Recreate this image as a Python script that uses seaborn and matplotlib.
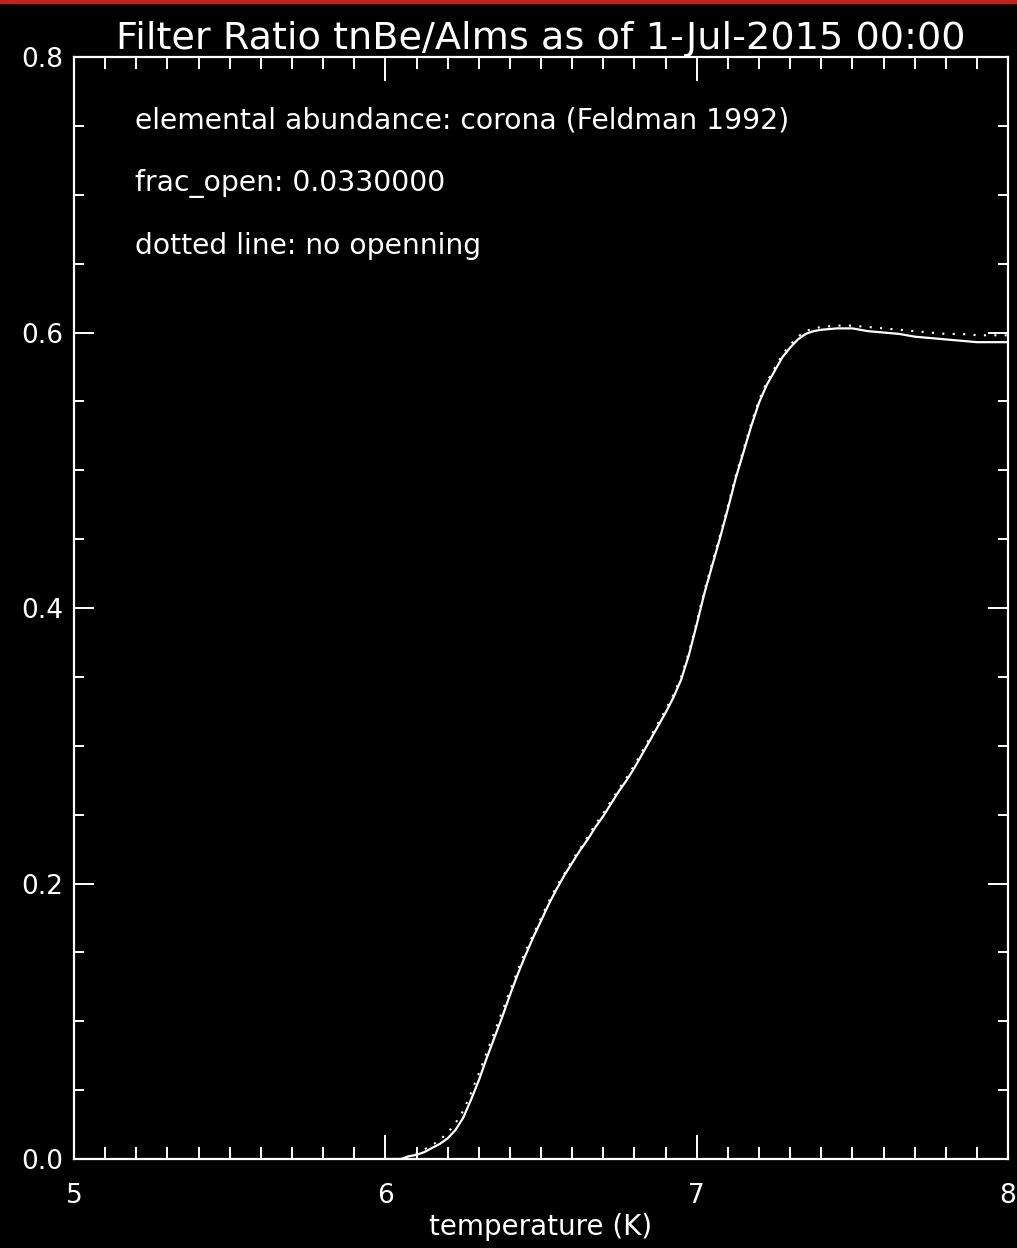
import matplotlib
matplotlib.use('Agg')
import matplotlib.pyplot as plt
import seaborn as sns
import pandas as pd
from matplotlib.patches import Rectangle
from matplotlib.ticker import MultipleLocator, FormatStrFormatter

# temperature grid (log T) and filter ratio values
log_temp = [6.000, 6.025, 6.050, 6.075, 6.100, 6.125, 6.150, 6.175, 6.200, 6.225,
            6.250, 6.275, 6.300, 6.325, 6.350, 6.375, 6.400, 6.425, 6.450, 6.475,
            6.500, 6.525, 6.550, 6.575, 6.600, 6.625, 6.650, 6.675, 6.700, 6.725,
            6.750, 6.775, 6.800, 6.825, 6.850, 6.875, 6.900, 6.925, 6.950, 6.975,
            7.000, 7.025, 7.050, 7.075, 7.100, 7.125, 7.150, 7.175, 7.200, 7.225,
            7.250, 7.275, 7.300, 7.325, 7.350, 7.375, 7.400, 7.450, 7.500, 7.550,
            7.600, 7.650, 7.700, 7.750, 7.800, 7.850, 7.900, 7.950, 8.000]

ratio_open = [0.000, 0.000, 0.000, 0.002, 0.003, 0.005, 0.008, 0.011, 0.015, 0.021,
              0.030, 0.043, 0.057, 0.073, 0.088, 0.103, 0.119, 0.134, 0.148, 0.161,
              0.173, 0.185, 0.196, 0.206, 0.215, 0.224, 0.232, 0.241, 0.249, 0.258,
              0.267, 0.275, 0.284, 0.294, 0.304, 0.314, 0.324, 0.335, 0.348, 0.366,
              0.388, 0.411, 0.431, 0.451, 0.472, 0.494, 0.513, 0.532, 0.549, 0.562,
              0.572, 0.582, 0.589, 0.595, 0.599, 0.601, 0.602, 0.603, 0.603, 0.601,
              0.600, 0.599, 0.597, 0.596, 0.595, 0.594, 0.593, 0.593, 0.593]

ratio_closed = [0.000, 0.000, 0.000, 0.002, 0.004, 0.007, 0.010, 0.014, 0.019, 0.026,
                0.035, 0.048, 0.062, 0.077, 0.092, 0.107, 0.122, 0.137, 0.151, 0.163,
                0.175, 0.187, 0.198, 0.207, 0.217, 0.225, 0.234, 0.243, 0.251, 0.260,
                0.269, 0.277, 0.286, 0.296, 0.306, 0.316, 0.326, 0.337, 0.350, 0.368,
                0.390, 0.413, 0.433, 0.453, 0.474, 0.496, 0.515, 0.534, 0.551, 0.564,
                0.574, 0.584, 0.591, 0.597, 0.601, 0.603, 0.604, 0.605, 0.605, 0.604,
                0.603, 0.602, 0.601, 0.600, 0.599, 0.599, 0.598, 0.598, 0.598]

notes = ['elemental abundance: corona (Feldman 1992)',
         'frac_open: 0.0330000',
         'dotted line: no openning']
note_y = [0.754, 0.7085, 0.663]

df = pd.DataFrame({'temp': log_temp, 'open': ratio_open, 'closed': ratio_closed})

sns.set_style('dark', {'axes.facecolor': 'black', 'figure.facecolor': 'black',
                       'axes.edgecolor': 'white', 'text.color': 'white',
                       'xtick.color': 'white', 'ytick.color': 'white',
                       'axes.labelcolor': 'white'})
plt.rcParams['font.family'] = ['DejaVu Sans']

fig = plt.figure(figsize=(10.17, 12.48), dpi=100)
fig.patch.set_facecolor('black')
ax = fig.add_axes([0.0728, 0.0713, 0.9184, 0.8830])
ax.set_facecolor('black')

# red strip along the top edge
fig.patches.append(Rectangle((0, 0.9976), 1, 0.0024, transform=fig.transFigure,
                             color='#c8201e', zorder=5))

sns.lineplot(data=df, x='temp', y='closed', ax=ax, color='white',
             linewidth=1.5, linestyle=(0, (1, 4)))
sns.lineplot(data=df, x='temp', y='open', ax=ax, color='white', linewidth=1.6)

ax.set_xlim(5, 8)
ax.set_ylim(0, 0.8)
ax.xaxis.set_major_locator(MultipleLocator(1))
ax.xaxis.set_minor_locator(MultipleLocator(0.1))
ax.yaxis.set_major_locator(MultipleLocator(0.2))
ax.yaxis.set_minor_locator(MultipleLocator(0.05))
ax.xaxis.set_major_formatter(FormatStrFormatter('%d'))
ax.yaxis.set_major_formatter(FormatStrFormatter('%.1f'))

ax.tick_params(axis='x', which='major', direction='in', length=17, width=1.4,
               top=True, bottom=True, labelsize=19, pad=17)
ax.tick_params(axis='x', which='minor', direction='in', length=8.5, width=1.4,
               top=True, bottom=True)
ax.tick_params(axis='y', which='major', direction='in', length=14.5, width=1.4,
               left=True, right=True, labelsize=19, pad=8)
ax.tick_params(axis='y', which='minor', direction='in', length=7.5, width=1.4,
               left=True, right=True)
for s in ax.spines.values():
    s.set_color('white')
    s.set_linewidth(1.6)
ax.grid(False)

ax.set_xlabel('temperature (K)', fontsize=20, labelpad=3)
ax.set_ylabel('')
ax.set_title('Filter Ratio tnBe/Alms as of 1-Jul-2015 00:00', fontsize=27.5,
             color='white', pad=1)

for yv, txt in zip(note_y, notes):
    ax.text(5.196, yv, txt, fontsize=20.3, color='white', va='center', ha='left')

fig.savefig('out.png', dpi=100, facecolor='black')
